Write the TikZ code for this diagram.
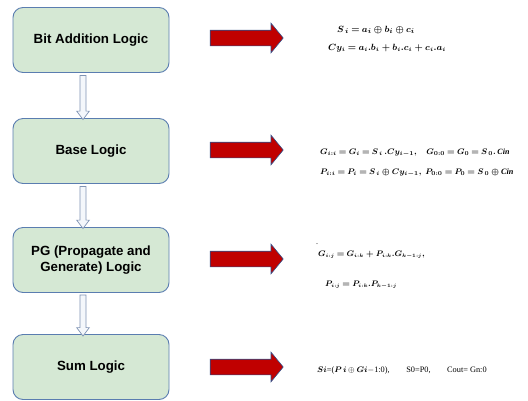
\documentclass[tikz,border=0pt]{standalone}
\usepackage{amsmath}
\usepackage{bm}
\usepackage{fontspec}
\setmainfont{Liberation Serif}
\newfontfamily\labelfont{Liberation Sans}
\usetikzlibrary{shapes.arrows,calc}

\definecolor{stagefill}{HTML}{D5E8D4}
\definecolor{stageline}{HTML}{5A7DB0}
\definecolor{pointred}{HTML}{C00000}
\definecolor{pointline}{HTML}{2F4F8A}
\definecolor{linkline}{HTML}{7F93B3}
\definecolor{linkfill}{HTML}{F4F7FB}

% bold math with slightly tighter spacing around relations
\newcommand\eqsetup{\mathversion{bold}\thickmuskip=4mu\relax}

\tikzset{
  stage/.style={draw=stageline, line width=0.9pt, fill=stagefill, rounded corners=10pt,
    minimum width=156pt, minimum height=65pt, align=center,
    font=\labelfont\bfseries\fontsize{13.3}{16}\selectfont},
  pointer/.style={single arrow, draw=pointline, line width=0.6pt, fill=pointred,
    minimum width=0pt, minimum height=73pt, inner sep=7.5pt,
    single arrow head extend=7pt, single arrow tip angle=101},
  link/.style={single arrow, draw=linkline, line width=0.7pt, fill=linkfill,
    shape border rotate=270, minimum width=0pt, inner sep=2.7pt,
    single arrow head extend=3.3pt, single arrow tip angle=74},
  eqtext/.style={anchor=west, inner sep=0pt, font=\eqsetup\fontsize{#1}{10}\selectfont},
  eqtext/.default=8,
  plaintext/.style={anchor=west, inner sep=0pt, font=\fontsize{8.3}{10}\selectfont},
}

\begin{document}
\begin{tikzpicture}[x=1pt, y=-1pt]
  \useasboundingbox (0,0) rectangle (528,400);

  % processing stages
  \node[stage] (b1) at (91,40)  {Bit Addition Logic};
  \node[stage] (b2) at (91,151) {Base Logic};
  \node[stage] (b3) at (91,260) {PG (Propagate and\\Generate) Logic};
  \node[stage] (b4) at (91,367) {Sum Logic};

  % hollow links between stages, set a little left of the centre line
  \path ([xshift=-8pt]b1.south) -- ([xshift=-8pt]b2.north) node[midway, link, minimum height=44pt] (l1) {};
  \path ([xshift=-8pt]b2.south) -- ([xshift=-8pt]b3.north) node[midway, link, minimum height=42pt] (l2) {};
  \path ([xshift=-8pt]b3.south) -- ([xshift=-8pt]b4.north) node[midway, link, minimum height=41pt] (l3) {};

  % red pointers towards the equations
  \node[pointer] (p1) at (243.5,38)  {};
  \node[pointer] (p2) at (243.5,150) {};
  \node[pointer] (p3) at (243.5,259) {};
  \node[pointer] (p4) at (243.5,367) {};

  % bit addition
  \node[eqtext=9.5] (e1a) at (337,30) {$S_{\,i} = a_i \oplus b_i \oplus c_i$};
  \node[eqtext=8.6] (e1b) at (328,48) {$Cy_i = a_i.b_i + b_i.c_i + c_i.a_i$};

  % base logic
  \node[eqtext] (e2a) at (320,153) {$G_{i:i} = G_i = S_{\,i}\,.Cy_{i-1},\quad G_{0:0} = G_0 = S_{\,0}.\,\mathit{Cin}$};
  \node[eqtext=8.2] (e2b) at (320,173) {$P_{i:i} = P_i = S_{\,i}\oplus Cy_{i-1},\; P_{0:0} = P_0 = S_{\,0}\oplus \mathit{Cin}$};

  % propagate and generate
  \node[eqtext] (dt) at (316,244) {.};
  \node[eqtext=7.6] (e3a) at (318,255) {$G_{i:j} = G_{i:k} + P_{i:k}.G_{k-1:j},$};
  \node[eqtext=7.6] (e3b) at (325,285) {$P_{i:j} = P_{i:k}.P_{k-1:j}$};

  % sum
  \node[plaintext] (e4) at (317,370)
    {$\bm{Si}$=($\bm{P\,i}$\,$\oplus$ $\bm{Gi}$$-$1:0),\qquad S0=P0,\qquad Cout= Gn:0};
\end{tikzpicture}
\end{document}
